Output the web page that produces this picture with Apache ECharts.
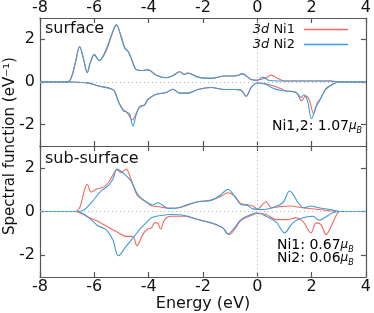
<!DOCTYPE html>
<html><head><meta charset="utf-8">
<script src="https://cdn.jsdelivr.net/npm/echarts@6/dist/echarts.min.js"></script>
<style>html,body{margin:0;padding:0;background:#fff}#c{width:374px;height:313px}</style>
</head><body><div id="c"></div>
<script>
// ---- data (energy in eV, spectral function in 1/eV) ----
const yTickValues = [-2, 0, 2];
const seriesNames = ['Ni1', 'Ni2'];

// surface, Ni1 (red)
const surfNi1Up = [[-8,0],[-7.0,0],[-6.85,0.2],[-6.7,0.9],[-6.54,1.64],[-6.4,1.1],[-6.26,0.45],[-6.15,0.9],[-6.0,1.26],[-5.82,1.0],[-5.55,1.5],[-5.37,2.15],[-5.19,2.66],[-5.0,2.1],[-4.88,1.62],[-4.76,1.45],[-4.64,1.1],[-4.45,0.58],[-4.21,0.54],[-4.03,0.56],[-3.72,0.32],[-3.35,0.2],[-3.1,0.3],[-2.86,0.48],[-2.68,0.36],[-2.56,0.42],[-2.19,0.23],[-1.7,0.17],[-1.21,0.28],[-0.84,0.28],[-0.54,0.38],[-0.23,0.12],[0,0.09],[0.3,0.18],[0.51,0.32],[0.75,0.17],[1.0,0.05],[2.0,0.05],[2.7,0.05],[3.07,0],[4,0]];
const surfNi1Dn = [[-8,0],[-7.0,0],[-6.5,-0.02],[-6.24,-0.04],[-5.87,-0.18],[-5.43,-0.3],[-5.26,-0.42],[-5.13,-0.85],[-4.94,-1.3],[-4.8,-1.42],[-4.6,-1.77],[-4.45,-1.45],[-4.33,-1.15],[-4.15,-1.06],[-4.03,-0.82],[-3.72,-0.57],[-3.35,-0.49],[-3.11,-0.34],[-2.86,-0.52],[-2.55,-0.52],[-2.19,-0.35],[-1.7,-0.26],[-1.21,-0.35],[-0.84,-0.35],[-0.6,-0.38],[-0.41,-0.66],[-0.23,-0.26],[0,-0.05],[0.3,-0.08],[0.58,-0.18],[0.9,-0.33],[1.06,-0.42],[1.43,-0.49],[1.63,-0.88],[1.78,-0.65],[1.9,-0.8],[2.08,-1.49],[2.2,-1.0],[2.32,-0.8],[2.53,-0.3],[2.78,-0.1],[3.02,0],[4,0]];
// surface, Ni2 (blue)
const surfNi2Up = [[-8,0],[-7.0,0],[-6.85,0.2],[-6.7,0.9],[-6.54,1.66],[-6.4,1.1],[-6.26,0.43],[-6.15,0.9],[-6.0,1.3],[-5.82,1.0],[-5.55,1.58],[-5.37,2.2],[-5.19,2.69],[-5.0,2.05],[-4.88,1.58],[-4.76,1.43],[-4.64,1.12],[-4.45,0.58],[-4.21,0.54],[-4.03,0.58],[-3.72,0.32],[-3.35,0.2],[-3.1,0.3],[-2.86,0.48],[-2.68,0.35],[-2.56,0.42],[-2.19,0.23],[-1.7,0.17],[-1.21,0.28],[-0.84,0.28],[-0.54,0.38],[-0.23,0.12],[0,0.08],[0.2,0.23],[0.45,0.07],[1.0,0.05],[2.0,0.05],[2.7,0.05],[3.07,0],[4,0]];
const surfNi2Dn = [[-8,0],[-7.0,0],[-6.5,-0.02],[-6.24,-0.04],[-5.87,-0.18],[-5.43,-0.3],[-5.26,-0.42],[-5.13,-0.88],[-4.94,-1.34],[-4.8,-1.42],[-4.7,-1.5],[-4.58,-2.06],[-4.45,-1.5],[-4.33,-1.18],[-4.15,-1.08],[-4.03,-0.82],[-3.72,-0.57],[-3.35,-0.49],[-3.11,-0.34],[-2.86,-0.52],[-2.55,-0.52],[-2.19,-0.35],[-1.7,-0.26],[-1.21,-0.35],[-0.84,-0.35],[-0.6,-0.38],[-0.41,-0.68],[-0.23,-0.26],[0,-0.05],[0.3,-0.1],[0.58,-0.29],[0.9,-0.4],[1.06,-0.42],[1.43,-0.49],[1.61,-0.72],[1.72,-0.6],[1.85,-0.9],[2.0,-1.72],[2.15,-1.2],[2.29,-0.88],[2.53,-0.34],[2.78,-0.11],[3.02,0],[4,0]];

// sub-surface, Ni1 (red)
const subNi1Up = [[-8,0],[-6.7,0],[-6.55,0.15],[-6.48,0.4],[-6.37,0.95],[-6.26,1.25],[-6.12,0.89],[-5.93,1.02],[-5.63,1.14],[-5.44,1.4],[-5.3,1.7],[-5.17,1.91],[-5.02,1.78],[-4.83,1.94],[-4.65,1.48],[-4.4,0.71],[-4.04,0.4],[-3.9,0.25],[-3.6,0.22],[-3.41,0.17],[-3.0,0.15],[-2.6,0.28],[-2.19,0.45],[-1.7,0.52],[-1.33,0.7],[-1.09,0.86],[-0.84,0.71],[-0.6,0.35],[-0.4,0.32],[-0.16,0.25],[0,0.12],[0.33,0.45],[0.51,0.17],[0.82,0.22],[1.19,0.25],[1.68,0.17],[2.29,0.09],[2.76,0.02],[3.0,0],[4,0]];
const subNi1Dn = [[-8,0],[-6.7,0],[-6.45,-0.12],[-6.24,-0.25],[-5.87,-0.45],[-5.5,-0.71],[-5.14,-0.95],[-4.83,-1.14],[-4.59,-1.14],[-4.43,-1.57],[-4.22,-1.06],[-4.04,-0.8],[-3.9,-0.75],[-3.78,-0.52],[-3.68,-0.52],[-3.56,-0.8],[-3.41,-0.37],[-3.17,-0.22],[-2.68,-0.22],[-2.19,-0.37],[-1.7,-0.52],[-1.27,-0.75],[-1.03,-1.06],[-0.8,-0.75],[-0.6,-0.4],[-0.23,-0.18],[0,-0.09],[0.33,-0.14],[0.7,-0.37],[1.06,-0.37],[1.43,-0.29],[1.68,-0.45],[1.98,-0.98],[2.17,-0.52],[2.35,-0.6],[2.53,-1.06],[2.78,-0.52],[2.96,-0.06],[3.05,0],[4,0]];
// sub-surface, Ni2 (blue)
const subNi2Up = [[-8,0],[-6.6,0],[-6.36,0.09],[-6.06,0.48],[-5.75,0.94],[-5.5,1.17],[-5.32,1.48],[-5.16,1.94],[-4.89,1.71],[-4.65,1.4],[-4.4,0.78],[-4.04,0.4],[-3.85,0.3],[-3.66,0.4],[-3.5,0.3],[-3.29,0.14],[-2.92,0.17],[-2.56,0.32],[-2.19,0.45],[-1.7,0.51],[-1.33,0.78],[-1.09,1.02],[-0.84,0.71],[-0.6,0.32],[-0.35,0.28],[-0.16,0.12],[0.17,0.09],[0.5,0.15],[0.94,0.4],[1.19,0.94],[1.55,0.32],[1.72,0.17],[1.98,0.25],[2.27,0.17],[2.7,0.09],[3.07,0],[4,0]];
const subNi2Dn = [[-8,0],[-6.6,0],[-6.36,-0.14],[-6.12,-0.37],[-5.87,-0.65],[-5.57,-0.83],[-5.32,-1.29],[-5.11,-2.03],[-4.83,-1.6],[-4.53,-1.14],[-4.28,-0.75],[-4.04,-0.45],[-3.9,-0.29],[-3.54,-0.18],[-3.17,-0.14],[-2.68,-0.18],[-2.19,-0.37],[-1.7,-0.52],[-1.27,-0.75],[-1.09,-1.03],[-0.84,-0.75],[-0.6,-0.37],[-0.23,-0.14],[0,-0.06],[0.33,-0.22],[0.7,-0.49],[1.0,-0.98],[1.31,-0.52],[1.68,-0.29],[2.04,-0.22],[2.29,-0.4],[2.47,-0.29],[2.78,-0.06],[3.05,0],[4,0]];

// ---- styling ----
const FONT = 'DejaVu Sans';
const AX = '#555';
const RED = '#ef6a5e', BLUE = '#3d9bd8';
const TXT = '#111';

function xAx(grid, pos, labels, extra) {
  return Object.assign({
    type: 'value', gridIndex: grid, position: pos, min: -8, max: 4, interval: 2,
    axisLine: {show: true, onZero: false, lineStyle: {color: AX, width: 1.2}},
    axisTick: {show: true, inside: true, length: 5, lineStyle: {color: AX, width: 1.2}},
    axisLabel: {show: labels, color: TXT, fontSize: 16, fontFamily: FONT, margin: 2},
    splitLine: {show: false}
  }, extra || {});
}
function yAx(grid, pos, labels) {
  return {
    type: 'value', gridIndex: grid, position: pos, min: -3, max: 3, interval: 1,
    axisLine: {show: true, onZero: false, lineStyle: {color: AX, width: 1.2}},
    axisTick: {show: true, inside: true, length: 5, customValues: yTickValues, lineStyle: {color: AX, width: 1.2}},
    axisLabel: {show: labels, customValues: yTickValues, color: TXT, fontSize: 16, fontFamily: FONT, margin: 5},
    splitLine: {show: false}
  };
}
const zeroMarks = {
  silent: true, symbol: 'none', animation: false,
  label: {show: false},
  lineStyle: {color: '#b5b5b5', type: [1, 3], width: 1},
  data: [{yAxis: 0}, {xAxis: 0}]
};
function line(name, data, color, idx, mark) {
  const s = {
    type: 'line', name: name, data: data, xAxisIndex: idx * 2, yAxisIndex: idx * 2,
    showSymbol: false, smooth: 0.35, color: color,
    lineStyle: {color: color, width: 1.1}, emphasis: {disabled: true}
  };
  if (mark) s.markLine = zeroMarks;
  return s;
}

const muRich = {
  t: {fontSize: 14, fontFamily: FONT, color: TXT, lineHeight: 18},
  m: {fontSize: 12, fontFamily: FONT, fontStyle: 'italic', color: TXT, lineHeight: 18},
  b: {fontSize: 8, fontFamily: FONT, fontStyle: 'italic', color: TXT, lineHeight: 13, verticalAlign: 'bottom'}
};

const option = {
  animation: false,
  backgroundColor: '#fff',
  grid: [
    {left: 40, right: 7, top: 16, height: 130},
    {left: 40, right: 7, top: 146, height: 131}
  ],
  xAxis: [
    xAx(0, 'top', true), xAx(0, 'bottom', false),
    xAx(1, 'top', false),
    xAx(1, 'bottom', true, {name: 'Energy (eV)', nameLocation: 'middle', nameGap: 13,
      nameTextStyle: {color: TXT, fontSize: 16, fontFamily: FONT, verticalAlign: 'top'}})
  ],
  yAxis: [yAx(0, 'left', true), yAx(0, 'right', false), yAx(1, 'left', true), yAx(1, 'right', false)],
  legend: {
    orient: 'vertical', right: 26, top: 23, align: 'right', padding: 0,
    itemWidth: 44, itemHeight: 1.5, icon: 'rect', itemGap: 2,
    data: seriesNames,
    formatter: n => '{i|3d} {n|' + n + '}',
    textStyle: {color: TXT, fontFamily: FONT, fontSize: 13,
      rich: {i: {fontStyle: 'italic', fontSize: 13, fontFamily: FONT, color: TXT, lineHeight: 15},
             n: {fontSize: 13, fontFamily: FONT, color: TXT, lineHeight: 15, padding: [0, 4, 0, 0]}}}
  },
  graphic: [
    {type: 'text', left: 45, top: 21, style: {text: 'surface', font: '16px "DejaVu Sans"', fill: TXT}},
    {type: 'text', left: 45, top: 151, style: {text: 'sub-surface', font: '16px "DejaVu Sans"', fill: TXT}},
    {type: 'text', x: 10, y: 146, rotation: Math.PI / 2,
      style: {text: 'Spectral function (eV⁻¹)', font: '15px "DejaVu Sans"', fill: TXT, align: 'center', verticalAlign: 'middle'}},
    {type: 'text', left: 272, top: 119, style: {text: '{t|Ni1,2: 1.07}{m|μ}{b|B}', rich: muRich}},
    {type: 'text', left: 277, top: 238, style: {text: '{t|Ni1: 0.67}{m|μ}{b|B}', rich: muRich}},
    {type: 'text', left: 277, top: 251, style: {text: '{t|Ni2: 0.06}{m|μ}{b|B}', rich: muRich}}
  ],
  series: [
    line('Ni1', surfNi1Up, RED, 0, true),
    line('Ni1', surfNi1Dn, RED, 0),
    line('Ni2', surfNi2Up, BLUE, 0),
    line('Ni2', surfNi2Dn, BLUE, 0),
    line('Ni1', subNi1Up, RED, 1, true),
    line('Ni1', subNi1Dn, RED, 1),
    line('Ni2', subNi2Up, BLUE, 1),
    line('Ni2', subNi2Dn, BLUE, 1)
  ]
};
const chart = echarts.init(document.getElementById('c'), null, {renderer: 'canvas'});
chart.setOption(option);
</script></body></html>
